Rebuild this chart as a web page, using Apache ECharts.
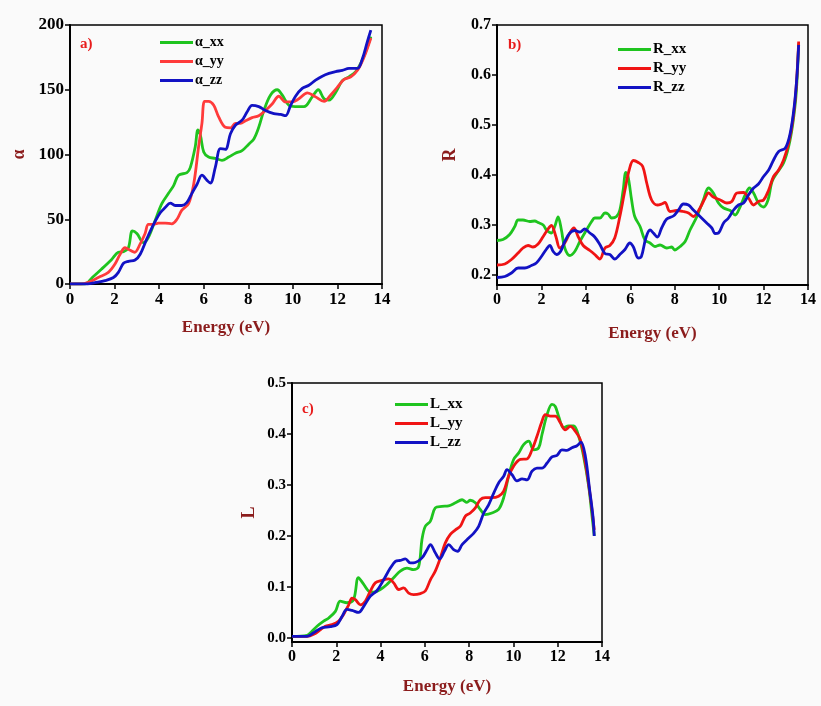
<!DOCTYPE html>
<html>
<head>
<meta charset="utf-8">
<script src="https://cdn.jsdelivr.net/npm/echarts@6/dist/echarts.min.js"></script>
<style>
  html, body { margin: 0; padding: 0; background: #fafafa; }
  #chart { width: 821px; height: 706px; }
</style>
</head>
<body>
<div id="chart"></div>
<script>
// ---- a) absorption coefficient alpha (x 10^4 cm^-1) vs photon energy ----
const alphaXXe = [0,0.67,1.0,1.42,1.87,2.17,2.4,2.62,2.8,3.0,3.3,3.52,3.82,4.12,4.42,4.65,4.87,5.25,5.4,5.62,5.74,5.85,6.0,6.22,6.52,6.82,7.12,7.42,7.72,8.02,8.25,8.47,8.7,9.0,9.3,9.52,9.82,10.1,10.5,10.87,11.14,11.4,11.62,11.92,12.22,12.52,12.82,13.12,13.34,13.5];
const alphaXX  = [0,0,5,11.6,19,24.5,25,28,41,39,32,36,49,62,70,76,84,86,90,106,119,115,102,98,97,95.5,98,101,103,108,112,121,134,146,150,146,138,137,137,144.5,150,143,142,148,157,160,164,173,183,191];
const alphaYYe = [0,0.5,0.82,1.27,1.72,2.02,2.25,2.47,2.7,2.9,3.15,3.37,3.52,3.75,3.97,4.27,4.57,4.8,5.02,5.32,5.55,5.77,5.92,6.04,6.22,6.45,6.67,6.97,7.2,7.42,7.65,7.87,8.17,8.47,8.77,9.07,9.37,9.67,9.97,10.27,10.65,11.02,11.4,11.7,12.0,12.3,12.6,12.9,13.2,13.5];
const alphaYY  = [0,0,1.3,5,9,15.5,23,28,26,24.5,31,39,46,46,47,47,46.5,50,57,62,77,106,124,141,141,138,129,121,120.5,124,124,126,128.5,130,134,139,145,140.6,140.6,143,147.6,144.5,141,146,152,158,160,165,175.5,190];
const alphaZZe = [0,0.8,1.12,1.57,1.95,2.17,2.4,2.62,2.92,3.15,3.45,3.75,4.05,4.27,4.5,4.72,5.02,5.25,5.47,5.7,5.92,6.15,6.3,6.52,6.75,6.97,7.2,7.42,7.72,7.95,8.17,8.47,8.77,9.15,9.45,9.67,9.9,10.12,10.42,10.72,11.02,11.32,11.62,11.92,12.22,12.52,12.9,13.12,13.34,13.5];
const alphaZZ  = [0,0,1,2.6,5,9,16,17.5,18.5,23,35,46,55,59,62.5,60.6,60.6,63,70,77,84,80,78,90,104.5,104,116,122.6,126.5,133,138,137,134,131.6,131,130,138,145,151,153.5,157.4,160.5,162.6,164,165,166.5,166.5,174,187,196];

// ---- b) reflectivity R ----
const rXXe = [0,0.27,0.57,0.8,0.95,1.17,1.47,1.7,1.85,2.08,2.23,2.45,2.6,2.75,2.9,3.05,3.28,3.5,3.73,4.03,4.26,4.4,4.63,4.86,5.0,5.16,5.38,5.53,5.68,5.8,5.9,6.06,6.2,6.44,6.66,6.89,7.11,7.34,7.64,7.86,8.0,8.24,8.47,8.69,9.0,9.29,9.52,9.74,9.97,10.2,10.5,10.72,10.95,11.17,11.37,11.55,11.77,12.0,12.2,12.38,12.6,12.9,13.13,13.32,13.47,13.58];
const rXX  = [0.269,0.271,0.281,0.297,0.31,0.31,0.307,0.308,0.305,0.30,0.29,0.284,0.297,0.316,0.29,0.254,0.239,0.247,0.267,0.29,0.307,0.314,0.314,0.324,0.322,0.314,0.317,0.33,0.37,0.405,0.397,0.35,0.317,0.297,0.27,0.264,0.257,0.26,0.254,0.256,0.25,0.257,0.267,0.29,0.317,0.35,0.374,0.364,0.344,0.334,0.329,0.32,0.337,0.36,0.374,0.364,0.344,0.336,0.35,0.387,0.404,0.424,0.457,0.504,0.564,0.663];
const rYYe = [0,0.35,0.65,0.95,1.17,1.4,1.62,1.85,2.08,2.3,2.45,2.65,2.83,3.05,3.28,3.46,3.65,3.88,4.18,4.4,4.63,4.86,5.08,5.3,5.53,5.76,5.95,6.14,6.36,6.56,6.74,6.96,7.22,7.41,7.56,7.79,8.09,8.39,8.62,8.84,9.14,9.37,9.52,9.74,10.05,10.35,10.57,10.8,11.1,11.32,11.55,11.77,12.0,12.23,12.45,12.68,12.9,13.13,13.32,13.47,13.58];
const rYY  = [0.22,0.222,0.231,0.244,0.254,0.259,0.256,0.262,0.277,0.292,0.299,0.277,0.254,0.264,0.284,0.294,0.277,0.259,0.249,0.241,0.232,0.254,0.259,0.274,0.317,0.37,0.41,0.429,0.425,0.417,0.384,0.35,0.34,0.342,0.345,0.327,0.329,0.327,0.324,0.317,0.334,0.354,0.364,0.356,0.35,0.344,0.347,0.364,0.365,0.354,0.34,0.347,0.35,0.37,0.397,0.41,0.43,0.464,0.51,0.577,0.667];
const rZZe = [0,0.35,0.65,0.95,1.25,1.55,1.77,2.0,2.23,2.38,2.53,2.68,2.86,3.05,3.28,3.5,3.73,3.95,4.18,4.4,4.63,4.86,5.08,5.3,5.53,5.76,5.98,6.14,6.36,6.5,6.7,6.89,7.04,7.22,7.41,7.64,7.94,8.17,8.39,8.62,8.84,9.14,9.44,9.67,9.82,9.97,10.2,10.42,10.65,10.87,11.1,11.32,11.55,11.77,12.0,12.23,12.45,12.68,12.98,13.2,13.38,13.5,13.58];
const rZZ  = [0.195,0.197,0.204,0.214,0.214,0.219,0.224,0.237,0.252,0.259,0.247,0.241,0.247,0.267,0.284,0.289,0.286,0.292,0.284,0.276,0.261,0.243,0.241,0.232,0.241,0.251,0.264,0.256,0.234,0.237,0.274,0.29,0.284,0.276,0.294,0.312,0.318,0.33,0.342,0.34,0.33,0.317,0.304,0.294,0.283,0.284,0.304,0.314,0.33,0.34,0.344,0.36,0.374,0.382,0.397,0.41,0.43,0.447,0.454,0.484,0.537,0.597,0.66];

// ---- c) energy loss function L ----
const lXXe = [0,0.68,0.9,1.13,1.43,1.66,1.96,2.18,2.48,2.78,3.0,3.24,3.46,3.69,3.99,4.29,4.59,4.89,5.19,5.49,5.72,5.87,6.02,6.25,6.47,6.77,7.07,7.38,7.68,7.9,8.05,8.28,8.5,8.73,9.03,9.33,9.56,9.78,10.01,10.24,10.46,10.69,10.91,11.14,11.29,11.52,11.74,11.89,12.04,12.27,12.49,12.72,12.95,13.17,13.4,13.55,13.65];
const lXX  = [0.003,0.005,0.013,0.023,0.033,0.039,0.052,0.072,0.069,0.075,0.118,0.105,0.092,0.09,0.095,0.105,0.118,0.131,0.137,0.134,0.14,0.193,0.219,0.229,0.255,0.258,0.259,0.265,0.271,0.266,0.27,0.265,0.252,0.242,0.245,0.252,0.275,0.317,0.35,0.363,0.379,0.386,0.369,0.373,0.399,0.438,0.458,0.454,0.435,0.412,0.416,0.416,0.395,0.356,0.297,0.239,0.2];
const lYYe = [0,0.68,0.98,1.28,1.5,1.81,2.11,2.33,2.56,2.71,2.86,3.09,3.31,3.54,3.76,4.06,4.37,4.59,4.82,5.04,5.27,5.49,5.8,6.02,6.25,6.47,6.7,6.92,7.15,7.38,7.6,7.83,8.05,8.28,8.5,8.73,9.03,9.33,9.56,9.78,10.01,10.31,10.61,10.84,11.06,11.29,11.44,11.67,11.89,12.12,12.34,12.57,12.8,13.02,13.25,13.47,13.65];
const lYY  = [0.003,0.003,0.007,0.016,0.023,0.026,0.033,0.046,0.065,0.078,0.075,0.065,0.072,0.092,0.108,0.113,0.116,0.108,0.095,0.098,0.088,0.085,0.087,0.092,0.114,0.131,0.157,0.186,0.203,0.212,0.219,0.239,0.245,0.255,0.271,0.275,0.275,0.278,0.288,0.317,0.337,0.35,0.351,0.369,0.395,0.425,0.438,0.435,0.435,0.422,0.408,0.415,0.405,0.389,0.343,0.278,0.212];
const lZZe = [0,0.68,0.98,1.35,1.73,2.03,2.26,2.48,2.71,3.01,3.24,3.54,3.84,4.14,4.44,4.67,4.89,5.12,5.34,5.57,5.87,6.1,6.25,6.47,6.67,6.88,7.08,7.3,7.48,7.68,7.98,8.2,8.43,8.66,8.88,9.11,9.33,9.56,9.71,9.94,10.16,10.39,10.61,10.84,11.06,11.29,11.52,11.74,11.97,12.19,12.42,12.64,12.87,13.05,13.25,13.44,13.59,13.65];
const lZZ  = [0.003,0.003,0.01,0.02,0.022,0.026,0.042,0.056,0.054,0.05,0.062,0.082,0.093,0.114,0.137,0.15,0.152,0.155,0.147,0.148,0.157,0.173,0.183,0.167,0.155,0.17,0.183,0.173,0.17,0.183,0.196,0.205,0.219,0.245,0.261,0.284,0.304,0.317,0.33,0.32,0.308,0.312,0.31,0.327,0.333,0.333,0.343,0.355,0.358,0.369,0.368,0.373,0.377,0.384,0.356,0.291,0.239,0.2];

// tick values shown on each axis
const energyTicks = [0, 2, 4, 6, 8, 10, 12, 14];
const alphaTicks = [0, 50, 100, 150, 200];
const rTicks = [0.2, 0.3, 0.4, 0.5, 0.6, 0.7];
const lTicks = [0.0, 0.1, 0.2, 0.3, 0.4, 0.5];

const pairs = (xs, ys) => xs.map((x, i) => [x, ys[i]]);

const GREEN = '#1fc41f';
const RED_A = '#ff3b3b';
const RED = '#f01414';
const BLUE = '#1212c4';
const AXIS_RED = '#8b1c1c';
const SERIF = '"Liberation Serif", "Times New Roman", serif';

const grids = [
  { left: 70, top: 25, width: 312, height: 259 },
  { left: 497, top: 25, width: 311, height: 260 },
  { left: 292, top: 383, width: 310, height: 259 }
].map(g => Object.assign(g, { show: true, borderColor: '#000', borderWidth: 1.5, backgroundColor: 'transparent' }));

function xAxisFor(idx, gap, fontSize) {
  return {
    type: 'value', gridIndex: idx, min: 0, max: 14, interval: 2,
    name: 'Energy (eV)', nameLocation: 'middle', nameGap: gap,
    nameTextStyle: { color: AXIS_RED, fontFamily: SERIF, fontWeight: 'bold', fontSize: 17 },
    axisLine: { onZero: false, lineStyle: { color: '#000', width: 2 } },
    axisTick: { show: true, inside: false, length: 5, lineStyle: { color: '#000', width: 1.5 },
      customValues: energyTicks },
    axisLabel: { color: '#000', fontFamily: SERIF, fontWeight: 'bold', fontSize: fontSize, margin: 7,
      customValues: energyTicks },
    splitLine: { show: false }
  };
}

function yAxisFor(idx, name, min, max, ticks, digits, gap, fontSize) {
  return {
    type: 'value', gridIndex: idx, min: min, max: max,
    name: name, nameLocation: 'middle', nameRotate: 90, nameGap: gap,
    nameTextStyle: { color: AXIS_RED, fontFamily: SERIF, fontWeight: 'bold', fontSize: 18 },
    axisLine: { show: true, onZero: false, lineStyle: { color: '#000', width: 2 } },
    axisTick: { show: true, inside: false, length: 5, lineStyle: { color: '#000', width: 1.5 },
      customValues: ticks },
    axisLabel: { color: '#000', fontFamily: SERIF, fontWeight: 'bold', fontSize: fontSize, margin: 6,
      customValues: ticks, formatter: v => v.toFixed(digits) },
    splitLine: { show: false }
  };
}

function line(name, idx, data, color) {
  return {
    type: 'line', name: name, xAxisIndex: idx, yAxisIndex: idx,
    data: data, showSymbol: false, smooth: 0.35,
    lineStyle: { color: color, width: 2.8 }, itemStyle: { color: color }
  };
}

function legendFor(names, left, top, fontSize) {
  return {
    data: names, orient: 'vertical', left: left, top: top, padding: 0,
    icon: 'rect', itemWidth: 33, itemHeight: 3, itemGap: 4,
    textStyle: { color: '#000', fontFamily: SERIF, fontWeight: 'bold', fontSize: fontSize, lineHeight: 15, padding: [0, 0, 0, -3] }
  };
}

function panelTag(text, x, y) {
  return { type: 'text', left: x, top: y,
    style: { text: text, fill: '#e81c1c', font: 'bold 15px ' + SERIF } };
}

const option = {
  backgroundColor: '#fafafa',
  animation: false,
  grid: grids,
  xAxis: [xAxisFor(0, 35, 17), xAxisFor(1, 40, 16), xAxisFor(2, 36, 16)],
  yAxis: [
    yAxisFor(0, 'α', 0, 200, alphaTicks, 0, 42, 17),
    yAxisFor(1, 'R', 0.18, 0.7, rTicks, 1, 38, 16),
    yAxisFor(2, 'L', -0.008, 0.5, lTicks, 1, 34, 15)
  ],
  legend: [
    legendFor(['α_xx', 'α_yy', 'α_zz'], 160, 35, 14),
    legendFor(['R_xx', 'R_yy', 'R_zz'], 618, 42, 15),
    legendFor(['L_xx', 'L_yy', 'L_zz'], 395, 397, 15)
  ],
  graphic: [panelTag('a)', 80, 37), panelTag('b)', 508, 38), panelTag('c)', 302, 402)],
  series: [
    line('α_xx', 0, pairs(alphaXXe, alphaXX), GREEN),
    line('α_yy', 0, pairs(alphaYYe, alphaYY), RED_A),
    line('α_zz', 0, pairs(alphaZZe, alphaZZ), BLUE),
    line('R_xx', 1, pairs(rXXe, rXX), GREEN),
    line('R_yy', 1, pairs(rYYe, rYY), RED),
    line('R_zz', 1, pairs(rZZe, rZZ), BLUE),
    line('L_xx', 2, pairs(lXXe, lXX), GREEN),
    line('L_yy', 2, pairs(lYYe, lYY), RED),
    line('L_zz', 2, pairs(lZZe, lZZ), BLUE)
  ]
};

const chart = echarts.init(document.getElementById('chart'), null, { renderer: 'canvas' });
chart.setOption(option);
</script>
</body>
</html>
